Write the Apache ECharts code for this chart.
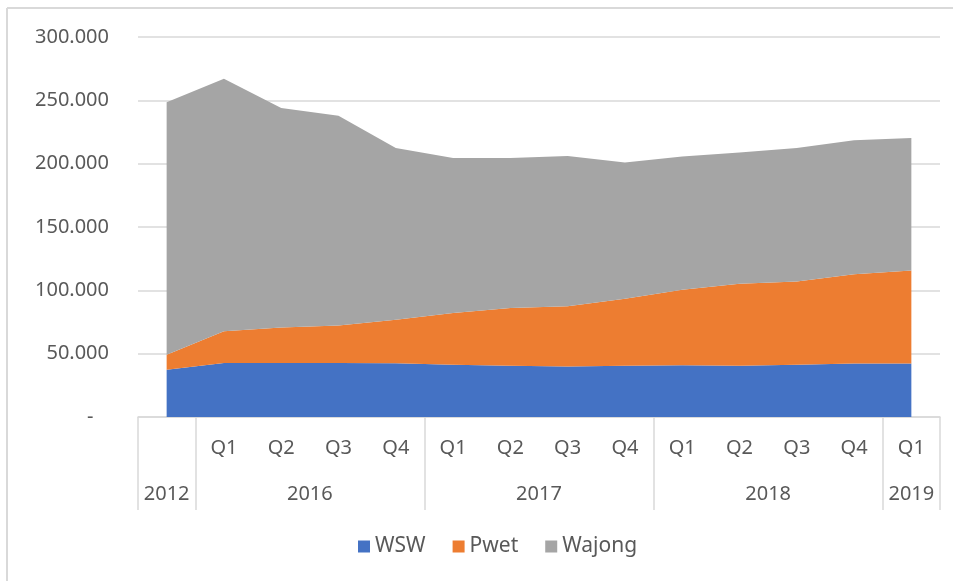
<!DOCTYPE html>
<html>
<head>
<meta charset="utf-8">
<script src="https://cdn.jsdelivr.net/npm/echarts@6/dist/echarts.min.js"></script>
<style>
html, body { margin: 0; background: #fff; }
#chart { width: 953px; height: 581px; }
</style>
</head>
<body>
<div id="chart"></div>
<script>
// categorieen: kwartaal + jaar
var quarters = ['', 'Q1', 'Q2', 'Q3', 'Q4', 'Q1', 'Q2', 'Q3', 'Q4', 'Q1', 'Q2', 'Q3', 'Q4', 'Q1'];
var years = ['2012', '2016', '2016', '2016', '2016', '2017', '2017', '2017', '2017', '2018', '2018', '2018', '2018', '2019'];

var wsw = [37300, 42600, 42600, 42600, 42500, 41300, 40500, 39800, 40500, 40800, 40500, 41300, 42300, 42300];
var pwet = [11900, 25000, 28100, 29700, 34300, 40800, 45500, 47700, 52900, 59700, 64700, 65700, 70300, 73400];
var wajong = [199200, 199400, 173300, 165600, 135600, 122400, 118500, 118500, 107600, 105200, 103700, 105400, 105800, 104500];

var seriesNames = ['WSW', 'Pwet', 'Wajong'];
var seriesColors = ['#4472C4', '#ED7D31', '#A5A5A5'];

// jaargroepen uit de categorieen
var groups = [];
for (var i = 0; i < years.length; i++) {
    var last = groups[groups.length - 1];
    if (last && last.name === years[i]) {
        last.end = i + 1;
    } else {
        groups.push({name: years[i], start: i, end: i + 1});
    }
}
var yearCenters = groups.map(function (g) { return (g.start + g.end) / 2; });
var yearBounds = [0].concat(groups.map(function (g) { return g.end; }));

var fmt = function (v) {
    if (v === 0) return '-   ';
    return String(v).replace(/\B(?=(\d{3})+(?!\d))/g, '.');
};

var font = 'Noto Sans';
var myChart = echarts.init(document.getElementById('chart'));

var data = [wsw, pwet, wajong];
var series = data.map(function (d, k) {
    return {
        name: seriesNames[k],
        type: 'line',
        stack: 'totaal',
        data: d,
        symbol: 'none',
        lineStyle: {width: 0},
        areaStyle: {color: seriesColors[k], opacity: 1},
        itemStyle: {color: seriesColors[k]},
        animation: false
    };
});

var option = {
    animation: false,
    grid: {left: 138, right: 13, top: 37, bottom: 164},
    legend: {
        bottom: 19,
        left: 353,
        itemWidth: 12,
        itemHeight: 12,
        itemGap: 27,
        icon: 'rect',
        textStyle: {fontFamily: font, fontSize: 21, color: '#595959'},
        data: seriesNames
    },
    xAxis: [
        {
            type: 'category',
            data: quarters,
            boundaryGap: true,
            axisLine: {lineStyle: {color: '#d9d9d9', width: 1.5}},
            axisTick: {interval: 0, length: 52, lineStyle: {color: '#d9d9d9', width: 1.5}},
            axisLabel: {interval: 0, margin: 21, fontFamily: font, fontSize: 20, color: '#595959'}
        },
        {
            type: 'value',
            position: 'bottom',
            min: 0,
            max: years.length,
            splitLine: {show: false},
            axisLine: {show: false},
            axisTick: {show: true, customValues: yearBounds, length: 93, lineStyle: {color: '#d9d9d9', width: 1.5}},
            axisLabel: {
                customValues: yearCenters,
                margin: 67,
                fontFamily: font,
                fontSize: 20,
                color: '#595959',
                formatter: function (v) {
                    var idx = yearCenters.indexOf(v);
                    return idx >= 0 ? groups[idx].name : '';
                }
            }
        }
    ],
    yAxis: {
        type: 'value',
        min: 0,
        max: 300000,
        interval: 50000,
        axisLine: {show: false},
        axisTick: {show: false},
        splitLine: {lineStyle: {color: '#d9d9d9', width: 1.5}},
        axisLabel: {margin: 29, fontFamily: font, fontSize: 20, color: '#595959', formatter: fmt}
    },
    graphic: [
        {type: 'line', shape: {x1: 7, y1: 8, x2: 953, y2: 8}, style: {stroke: '#d9d9d9', lineWidth: 2}},
        {type: 'line', shape: {x1: 7, y1: 8, x2: 7, y2: 581}, style: {stroke: '#d9d9d9', lineWidth: 2}}
    ],
    series: series
};
myChart.setOption(option);
</script>
</body>
</html>
